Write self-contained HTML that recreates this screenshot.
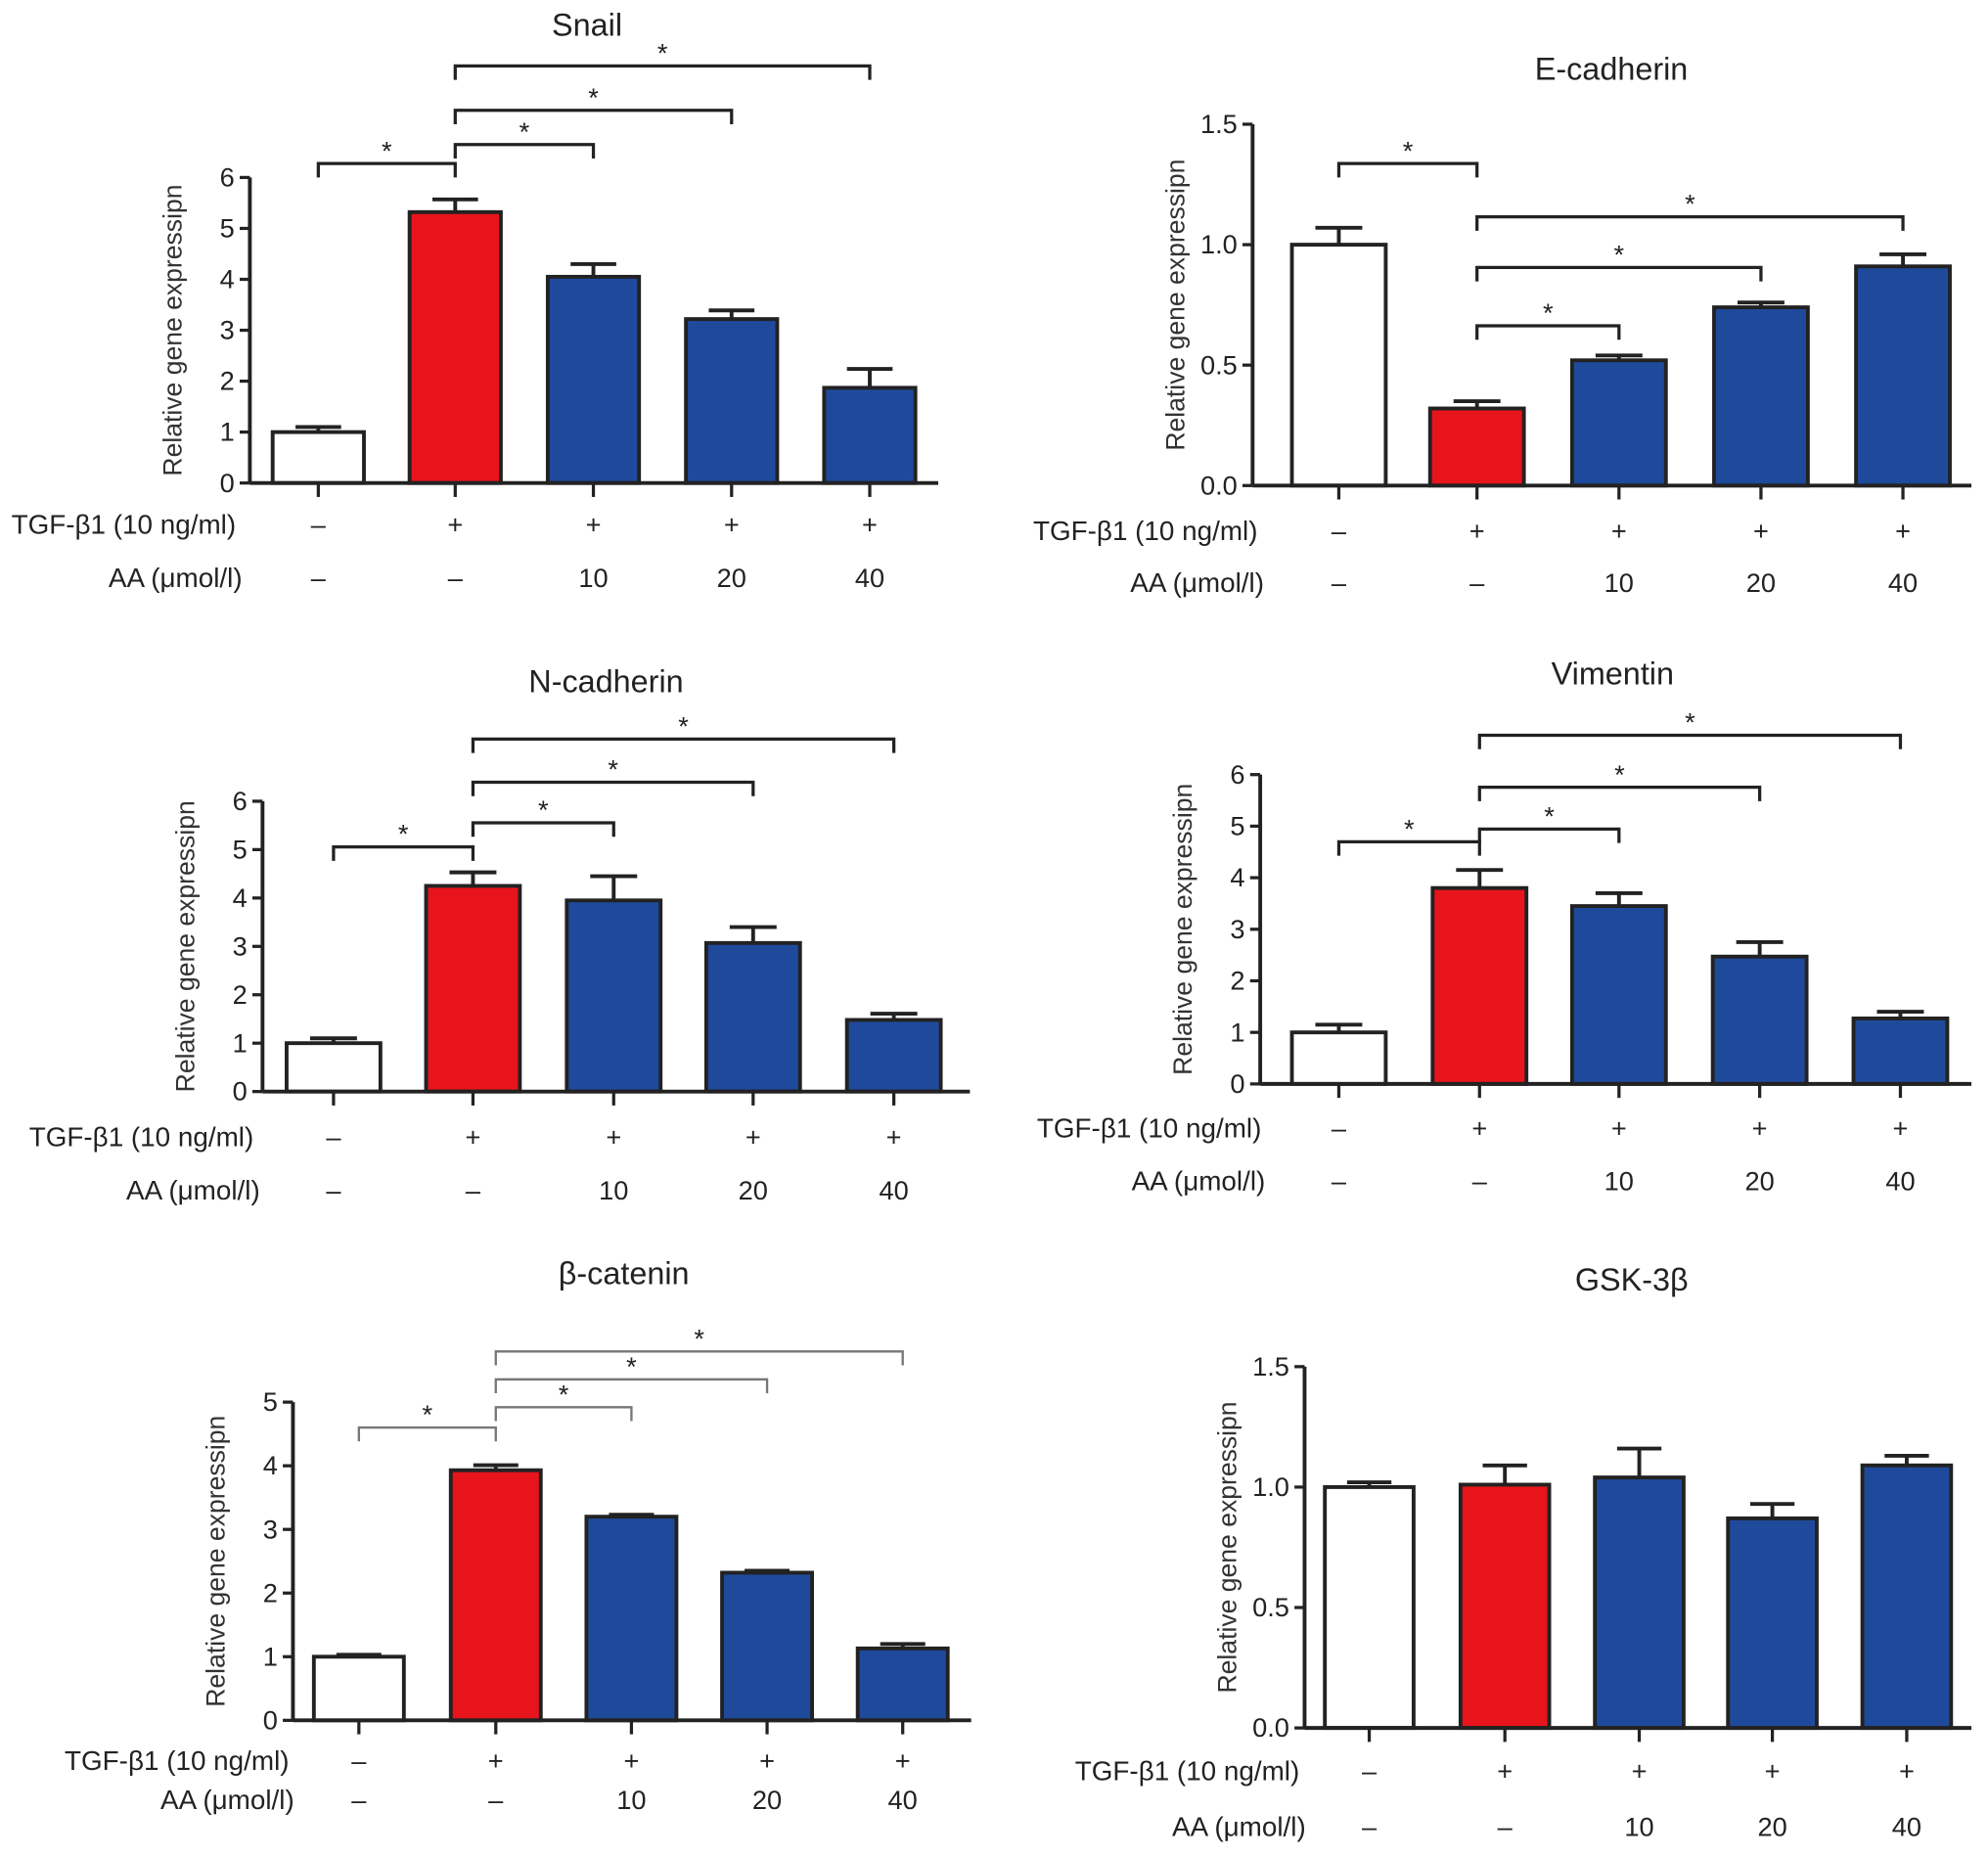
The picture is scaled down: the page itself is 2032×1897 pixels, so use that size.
<!DOCTYPE html>
<html><head><meta charset="utf-8"><style>
html,body{margin:0;padding:0;background:#fff;}
svg{display:block;font-family:"Liberation Sans",sans-serif;}
</style></head><body>
<svg id="fig" width="2032" height="1897" viewBox="0 0 1568 1464" xmlns="http://www.w3.org/2000/svg"></svg>
<script>
// ---- data ----
const groupTGF = ["–","+","+","+","+"];
const groupAA = ["–","–","10","20","40"];
const snailValues = [1.0, 5.32, 4.05, 3.22, 1.87];
const snailErrors = [0.1, 0.25, 0.25, 0.17, 0.37];
const snailTicks = ["0","1","2","3","4","5","6"];
const ecadValues = [1.0, 0.32, 0.52, 0.74, 0.91];
const ecadErrors = [0.07, 0.03, 0.02, 0.02, 0.05];
const ecadTicks = ["0.0","0.5","1.0","1.5"];
const ncadValues = [1.0, 4.25, 3.95, 3.07, 1.48];
const ncadErrors = [0.1, 0.28, 0.5, 0.33, 0.13];
const ncadTicks = ["0","1","2","3","4","5","6"];
const vimValues = [1.0, 3.8, 3.45, 2.47, 1.27];
const vimErrors = [0.15, 0.35, 0.25, 0.28, 0.13];
const vimTicks = ["0","1","2","3","4","5","6"];
const bcatValues = [1.0, 3.93, 3.2, 2.32, 1.13];
const bcatErrors = [0.03, 0.08, 0.03, 0.03, 0.07];
const bcatTicks = ["0","1","2","3","4","5"];
const gskValues = [1.0, 1.01, 1.04, 0.87, 1.09];
const gskErrors = [0.02, 0.08, 0.12, 0.06, 0.04];
const gskTicks = ["0.0","0.5","1.0","1.5"];
const colors = ["#ffffff","#e8141c","#1f4a9c","#1f4a9c","#1f4a9c"];

const NS = "http://www.w3.org/2000/svg";
const svg = document.getElementById("fig");
function mk(tag, attrs, parent, txt){
  const e = document.createElementNS(NS, tag);
  for (const k in attrs) e.setAttribute(k, attrs[k]);
  if (txt !== undefined) e.textContent = txt;
  (parent||svg).appendChild(e);
  return e;
}

function panel(p){
  const g = mk("g", {});
  
  
  const ymax = parseFloat(p.ticks[p.ticks.length-1]);
  const Y = v => p.y0 - (v/ymax)*(p.y0 - p.ytop);
  const t = mk("text", {x:p.titleX, y:p.titleY, "font-size":25, "text-anchor":"middle", fill:"#222"}, g, p.title);
  
  
  const yl = mk("text", {x:0, y:0, "font-size":20.5, "text-anchor":"middle", fill:"#333",
    transform:`translate(${p.axisX-54},${(p.y0+p.ytop)/2}) rotate(-90)`}, g, "Relative gene expressipn");
  
  
  p.values.forEach((v,i)=>{
    const cx = p.centers[i];
    const top = Y(v), etop = Y(v + p.errors[i]);
    const eb = mk("line", {x1:cx, x2:cx, y1:top, y2:etop, stroke:"#222", "stroke-width":3}, g);
    
    
    const cap = mk("line", {x1:cx-p.bw*0.25, x2:cx+p.bw*0.25, y1:etop, y2:etop, stroke:"#222", "stroke-width":3}, g);
    
    
    const r = mk("rect", {x:cx-p.bw/2, y:top, width:p.bw, height:p.y0-top, fill:colors[i], stroke:"#222", "stroke-width":3}, g);
    
    
    const tk = mk("line", {x1:cx, x2:cx, y1:p.y0, y2:p.y0+11, stroke:"#222", "stroke-width":2.5}, g);
    
    
    const a = mk("text", {x:cx, y:p.rowY1+7, "font-size":21, "text-anchor":"middle", fill:"#222"}, g, groupTGF[i]);
    
    
    const b = mk("text", {x:cx, y:p.rowY2+7, "font-size":21, "text-anchor":"middle", fill:"#222"}, g, groupAA[i]);
    
    
  });
  const ya = mk("line", {x1:p.axisX, x2:p.axisX, y1:p.ytop, y2:p.y0, stroke:"#222", "stroke-width":3}, g);
  
  
  const xa = mk("line", {x1:p.axisX, x2:p.xEnd, y1:p.y0, y2:p.y0, stroke:"#222", "stroke-width":3}, g);
  
  
  p.ticks.forEach(tl=>{
    const y = Y(parseFloat(tl));
    const tk = mk("line", {x1:p.axisX-8, x2:p.axisX, y1:y, y2:y, stroke:"#222", "stroke-width":2.5}, g);
    
    
    const tx = mk("text", {x:p.axisX-12, y:y+7, "font-size":21, "text-anchor":"end", fill:"#222"}, g, tl);
    
    
  });
  const r1 = mk("text", {x:p.rowX1, y:p.rowY1+7, "font-size":21.5, "text-anchor":"end", fill:"#222"}, g, "TGF-β1 (10 ng/ml)");
  
  
  const r2 = mk("text", {x:p.rowX2, y:p.rowY2+7, "font-size":21.5, "text-anchor":"end", fill:"#222"}, g, "AA (μmol/l)");
  
  
  (p.brackets||[]).forEach(br=>{
    const [a,b,y] = br;
    const x1 = p.centers[a], x2 = p.centers[b];
    const pl = mk("polyline", {points:`${x1},${y+11} ${x1},${y} ${x2},${y} ${x2},${y+11}`, fill:"none", stroke:p.brColor||"#222", "stroke-width":p.brW||2.5}, g);
    
    
    const s = mk("text", {x:(x1+x2)/2, y:y-3, "font-size":21, "text-anchor":"middle", fill:"#222"}, g, "*");
    
    
  });
}

panel({id:"snail", title:"Snail", titleX:463, titleY:28, values:snailValues, errors:snailErrors, ticks:snailTicks,
  axisX:197, y0:381, ytop:140, xEnd:740, centers:[251,359,468,577,686], bw:72,
  rowY1:414, rowY2:456, rowX1:186, rowX2:191,
  brackets:[[0,1,129],[1,2,114],[1,3,87],[1,4,52]]});
panel({id:"e-cadherin", title:"E-cadherin", titleX:1271, titleY:63, values:ecadValues, errors:ecadErrors, ticks:ecadTicks,
  axisX:988, y0:383, ytop:98, xEnd:1555, centers:[1056,1165,1277,1389,1501], bw:74,
  rowY1:419, rowY2:460, rowX1:992, rowX2:997,
  brackets:[[0,1,129],[1,2,257],[1,3,211],[1,4,171]]});
panel({id:"n-cadherin", title:"N-cadherin", titleX:478, titleY:546, values:ncadValues, errors:ncadErrors, ticks:ncadTicks,
  axisX:207, y0:861, ytop:632, xEnd:765, centers:[263,373,484,594,705], bw:74,
  rowY1:897, rowY2:939, rowX1:200, rowX2:205,
  brackets:[[0,1,668],[1,2,649],[1,3,617],[1,4,583]]});
panel({id:"vimentin", title:"Vimentin", titleX:1272, titleY:540, values:vimValues, errors:vimErrors, ticks:vimTicks,
  axisX:994, y0:855, ytop:611, xEnd:1555, centers:[1056,1167,1277,1388,1499], bw:74,
  rowY1:890, rowY2:932, rowX1:995, rowX2:998,
  brackets:[[0,1,664],[1,2,654],[1,3,621],[1,4,580]]});
panel({id:"beta-catenin", title:"β-catenin", titleX:492, titleY:1013, values:bcatValues, errors:bcatErrors, ticks:bcatTicks,
  axisX:231, y0:1357, ytop:1106, xEnd:766, centers:[283,391,498,605,712], bw:71,
  rowY1:1389, rowY2:1420, rowX1:228, rowX2:232, brColor:"#777", brW:1.8,
  brackets:[[0,1,1126],[1,2,1110],[1,3,1088],[1,4,1066]]});
panel({id:"gsk-3b", title:"GSK-3β", titleX:1287, titleY:1018, values:gskValues, errors:gskErrors, ticks:gskTicks,
  axisX:1029, y0:1363, ytop:1078, xEnd:1555, centers:[1080,1187,1293,1398,1504], bw:70,
  rowY1:1397, rowY2:1441, rowX1:1025, rowX2:1030, brackets:[]});
</script>
</body></html>
